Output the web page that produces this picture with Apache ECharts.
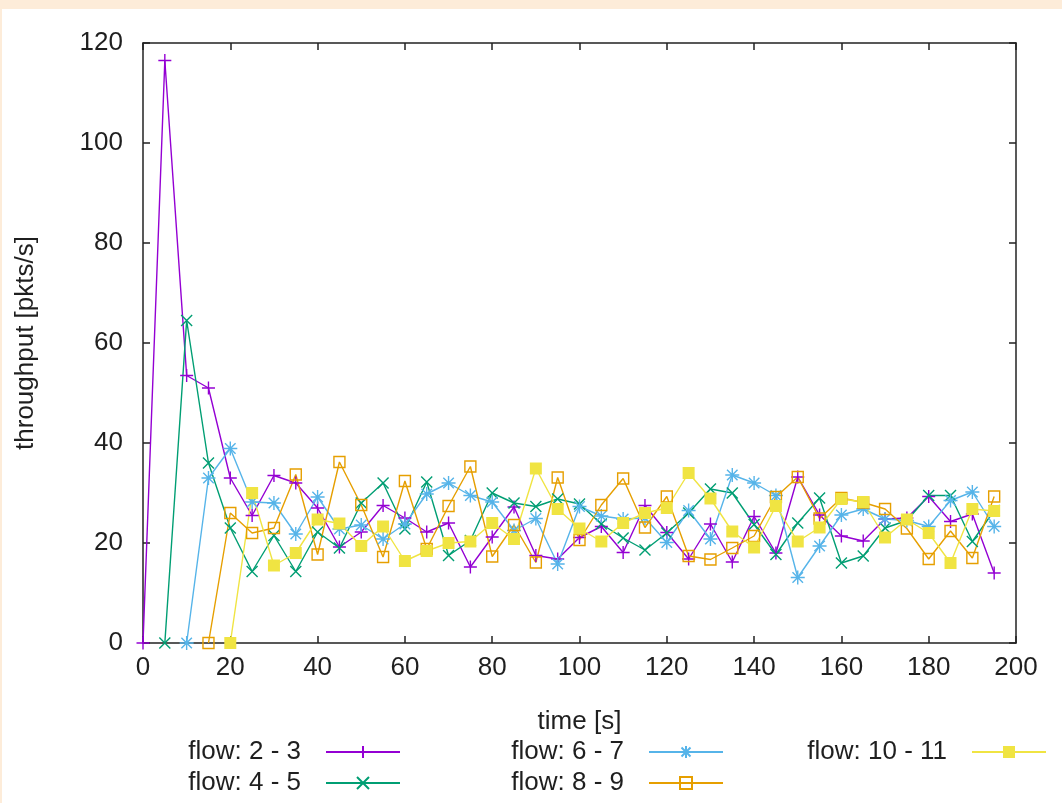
<!DOCTYPE html>
<html>
<head>
<meta charset="utf-8">
<script src="https://cdn.jsdelivr.net/npm/echarts@6/dist/echarts.min.js"></script>
<style>
  html, body { margin: 0; padding: 0; background: #ffffff; }
  #frame {
    width: 1060px; height: 794px;
    border-top: 9px solid #fdecd9;
    border-left: 2px solid #fdecd9;
    background: #ffffff;
  }
  #chart { width: 1060px; height: 794px; }
</style>
</head>
<body>
<div id="frame"><div id="chart"></div></div>
<script>
// sample times [s]
const times = [0, 5, 10, 15, 20, 25, 30, 35, 40, 45, 50, 55, 60, 65, 70, 75, 80, 85, 90, 95,
  100, 105, 110, 115, 120, 125, 130, 135, 140, 145, 150, 155, 160, 165, 170, 175, 180, 185, 190, 195];

// throughput per flow [pkts/s]; null = flow not started yet
const flow2_3 = [0, 116.5, 53.5, 51, 33, 25.5, 33.5, 32, 27, 19.2, 22.2, 27.5, 25, 22.2, 24, 15.2, 21.2, 27.2, 17.5, 16.8,
  21.1, 23.3, 18.1, 27.5, 22.1, 16.8, 23.8, 16.2, 25.3, 18, 33.2, 25.6, 21.4, 20.4, 24.8, 25, 29.3, 24.3, 25.8, 14];
const flow4_5 = [null, 0, 64.5, 36, 23, 14.3, 21.5, 14.3, 22.2, 19, 28, 32, 22.8, 32.2, 17.5, 20.5, 30, 28, 27.3, 28.8,
  27.8, 23.8, 21, 18.6, 22, 26, 30.8, 30, 23.7, 17.7, 24, 29, 16, 17.4, 23, 24.5, 29.5, 29.5, 20.3, 26.5];
const flow6_7 = [null, null, 0, 33, 38.9, 28.2, 28, 21.8, 29.2, 22.8, 23.6, 20.8, 23.8, 29.8, 32, 29.5, 28.2, 22.5, 24.9, 15.8,
  27.3, 25.4, 24.8, 25, 20.1, 26.5, 20.8, 33.6, 32, 29.5, 13.1, 19.4, 25.6, 26.8, 24.8, 24.5, 23.3, 28.5, 30.2, 23.3];
const flow8_9 = [null, null, null, 0, 26, 22, 23, 33.7, 17.7, 36.2, 27.6, 17.2, 32.4, 18.8, 27.4, 35.3, 17.3, 23.6, 16.1, 33.1,
  20.6, 27.6, 32.9, 23.1, 29.3, 17.4, 16.7, 19, 21.4, 29.2, 33.2, 24.9, 29, 28.1, 26.8, 22.9, 16.8, 22.4, 17, 29.3];
const flow10_11 = [null, null, null, null, 0, 30, 15.5, 18, 24.7, 23.9, 19.4, 23.3, 16.4, 18.4, 20, 20.3, 24, 20.8, 34.9, 26.8,
  22.9, 20.3, 24, 26, 27, 34, 28.9, 22.3, 19.1, 27.4, 20.3, 23.1, 28.8, 28.2, 21.1, 24.7, 22, 16, 26.8, 26.4];

// axis ticks
const xTicks = { min: 0, max: 200, step: 20 };
const yTicks = { min: 0, max: 120, step: 20 };

const FONT = "'Liberation Sans', Arial, sans-serif";
const TEXT = '#1f1f1f';
const AXIS = '#222222';

// point glyphs in the classic plotting style
const PLUS = 'path://M0,6L12,6M6,0L6,12';
const CROSS = 'path://M0,0L12,12M0,12L12,0';
const STAR = 'path://M0,6L12,6M6,0L6,12M1.5,1.5L10.5,10.5M1.5,10.5L10.5,1.5';

function pairs(vals) {
  return times.map((t, i) => (vals[i] === null ? [t, null] : [t, vals[i]]));
}

function makeSeries(name, vals, color, symbol, size, filled) {
  return {
    name: name,
    type: 'line',
    data: pairs(vals),
    xAxisIndex: 0,
    yAxisIndex: 0,
    color: color,
    symbol: symbol,
    symbolSize: size,
    showAllSymbol: true,
    clip: false,
    connectNulls: false,
    lineStyle: { color: color, width: 1.4 },
    itemStyle: {
      color: filled ? color : 'rgba(0,0,0,0)',
      borderColor: color,
      borderWidth: filled ? 0 : 1.4
    },
    emphasis: { disabled: true },
    animation: false
  };
}

const seriesList = [
  makeSeries('flow: 2 - 3', flow2_3, '#9400d3', PLUS, 13, false),
  makeSeries('flow: 4 - 5', flow4_5, '#009e73', CROSS, 11, false),
  makeSeries('flow: 6 - 7', flow6_7, '#56b4e9', STAR, 14, false),
  makeSeries('flow: 8 - 9', flow8_9, '#e69f00', 'rect', 11, false),
  makeSeries('flow: 10 - 11', flow10_11, '#f0e442', 'rect', 12, true)
];

function legendBlock(names, right) {
  return {
    data: names,
    orient: 'vertical',
    align: 'right',
    right: right,
    top: 730,
    padding: 0,
    itemWidth: 74,
    itemHeight: 15,
    itemGap: 5,
    selectedMode: false,
    textStyle: {
      fontFamily: FONT, fontSize: 26, color: TEXT, lineHeight: 26,
      padding: [0, 20, 0, 0]
    }
  };
}

function axisBase(ticks) {
  return {
    type: 'value',
    min: ticks.min,
    max: ticks.max,
    interval: ticks.step,
    splitLine: { show: false },
    axisLine: { show: true, onZero: false, lineStyle: { color: AXIS, width: 1.5 } },
    axisTick: { show: true, inside: true, length: 7, lineStyle: { color: AXIS, width: 1.5 } }
  };
}

const chart = echarts.init(document.getElementById('chart'), null, { renderer: 'canvas' });
chart.setOption({
  backgroundColor: '#ffffff',
  animation: false,
  grid: { left: 141, right: 46, top: 34, bottom: 160, containLabel: false },
  xAxis: [
    Object.assign(axisBase(xTicks), {
      position: 'bottom',
      name: 'time [s]',
      nameLocation: 'middle',
      nameGap: 66,
      nameTextStyle: { fontFamily: FONT, fontSize: 26, color: TEXT },
      axisLabel: { fontFamily: FONT, fontSize: 26, color: TEXT, margin: 12 }
    }),
    Object.assign(axisBase(xTicks), {
      position: 'top',
      axisLabel: { show: false }
    })
  ],
  yAxis: [
    Object.assign(axisBase(yTicks), {
      position: 'left',
      name: 'throughput [pkts/s]',
      nameLocation: 'middle',
      nameGap: 104,
      nameTextStyle: { fontFamily: FONT, fontSize: 26, color: TEXT },
      axisLabel: { fontFamily: FONT, fontSize: 26, color: TEXT, margin: 20 }
    }),
    Object.assign(axisBase(yTicks), {
      position: 'right',
      axisLabel: { show: false }
    })
  ],
  legend: [
    legendBlock(['flow: 2 - 3', 'flow: 4 - 5'], 661),
    legendBlock(['flow: 6 - 7', 'flow: 8 - 9'], 338),
    legendBlock(['flow: 10 - 11'], 15)
  ],
  series: seriesList
});
</script>
</body>
</html>
